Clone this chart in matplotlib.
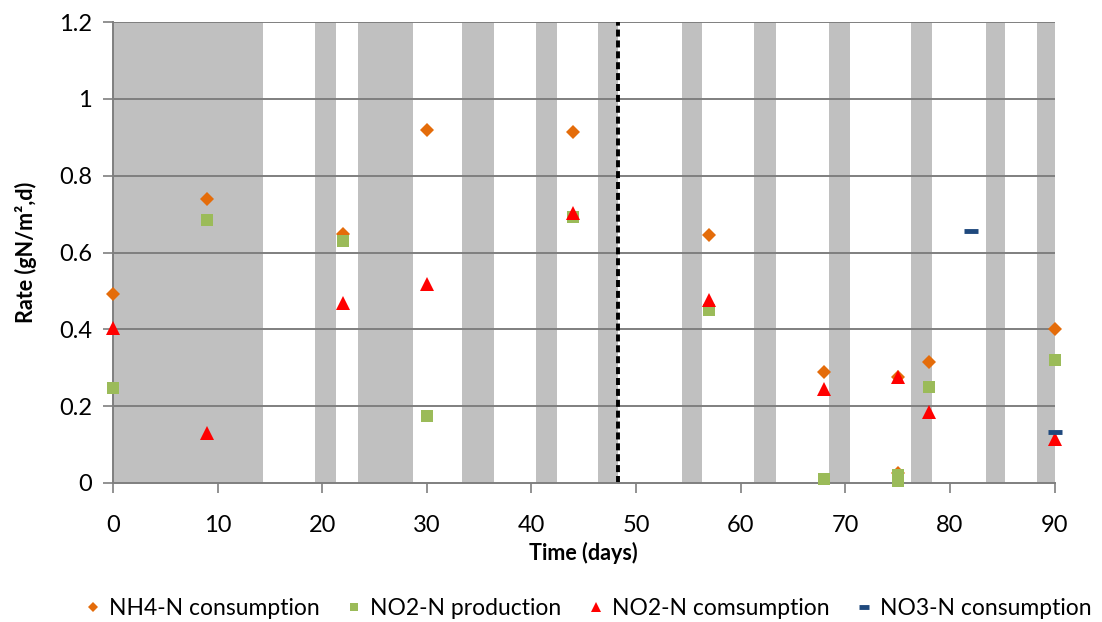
import matplotlib.pyplot as plt

plt.rcParams['font.family'] = ['Lato', 'DejaVu Sans']

# measurement days and rates (gN/m2,d)
nh4_days = [0, 9, 22, 30, 44, 57, 68, 75, 75, 78, 90]
nh4_cons = [0.491, 0.739, 0.648, 0.920, 0.914, 0.645, 0.290, 0.276, 0.026, 0.314, 0.400]

no2p_days = [0, 9, 22, 30, 44, 57, 68, 75, 75, 78, 90]
no2_prod = [0.246, 0.684, 0.631, 0.174, 0.693, 0.450, 0.010, 0.022, 0.004, 0.251, 0.321]

no2c_days = [0, 9, 22, 30, 44, 57, 68, 75, 78, 90]
no2_cons = [0.403, 0.129, 0.469, 0.517, 0.703, 0.476, 0.244, 0.277, 0.186, 0.115]

no3_days = [82, 90]
no3_cons = [0.657, 0.132]

# shaded periods (start, end) in days
shade_start = [0, 19.3, 23.4, 33.4, 40.4, 46.4, 54.4, 61.3, 68.4, 76.3, 83.4, 88.3]
shade_end = [14.3, 21.3, 28.7, 36.4, 42.4, 48.3, 56.3, 63.4, 70.4, 78.3, 85.3, 90]
switch_day = 48.3

fig = plt.figure(figsize=(11.02, 6.22), dpi=100)
ax = fig.add_axes([0.1025, 0.2235, 0.8545, 0.7411])

for s, e in zip(shade_start, shade_end):
    ax.axvspan(s, e, ymin=-0.005, ymax=1, color='#C0C0C0', lw=0, zorder=0)

ax.set_ylim(0, 1.2)
ax.set_xlim(0, 90)
ax.set_yticks([0, 0.2, 0.4, 0.6, 0.8, 1, 1.2])
ax.set_yticklabels(['0', '0.2', '0.4', '0.6', '0.8', '1', '1.2'])
ax.set_xticks(range(0, 91, 10))
for y in [0.2, 0.4, 0.6, 0.8, 1.0, 1.2]:
    ax.axhline(y, color='#7F7F7F', lw=1.4, zorder=1)

ax.axvline(switch_day, color='black', lw=2.8, ls=(0, (1.8, 1.0)), zorder=2)

ax.plot(nh4_days, nh4_cons, 'D', color='#E46C0A', ms=7.5, mew=0, ls='none',
        label='NH4-N consumption', zorder=3, clip_on=False)
ax.plot(no2p_days, no2_prod, 's', color='#9BBB59', ms=9, mew=0, ls='none',
        label='NO2-N production', zorder=3, clip_on=False)
ax.plot(no2c_days, no2_cons, '^', color='#FF0000', ms=10, mew=0, ls='none',
        label='NO2-N comsumption', zorder=3, clip_on=False)
ax.plot(no3_days, no3_cons, '_', color='#1F497D', ms=10, mew=3.5, ls='none',
        label='NO3-N consumption', zorder=3, clip_on=False)

for side in ['top', 'right']:
    ax.spines[side].set_visible(False)
for side in ['left', 'bottom']:
    ax.spines[side].set_color('#7F7F7F')
    ax.spines[side].set_linewidth(1.4)
ax.tick_params(axis='both', colors='#7F7F7F', width=1.2, length=7,
               labelcolor='black', labelsize=17)
ax.tick_params(axis='x', pad=16)
ax.tick_params(axis='y', pad=8)

ax.set_xlabel('Time (days)', fontsize=15.5, fontweight='bold', labelpad=4)
ax.set_ylabel('Rate (gN/m²,d)', fontsize=15.5, fontweight='bold', labelpad=16)

leg = fig.legend(loc='lower center', bbox_to_anchor=(0.533, -0.028), ncol=4,
                 frameon=False, fontsize=16.5, handletextpad=0.3,
                 columnspacing=1.1, markerscale=0.7, handlelength=0.8)

fig.savefig('out.png', dpi=100)
